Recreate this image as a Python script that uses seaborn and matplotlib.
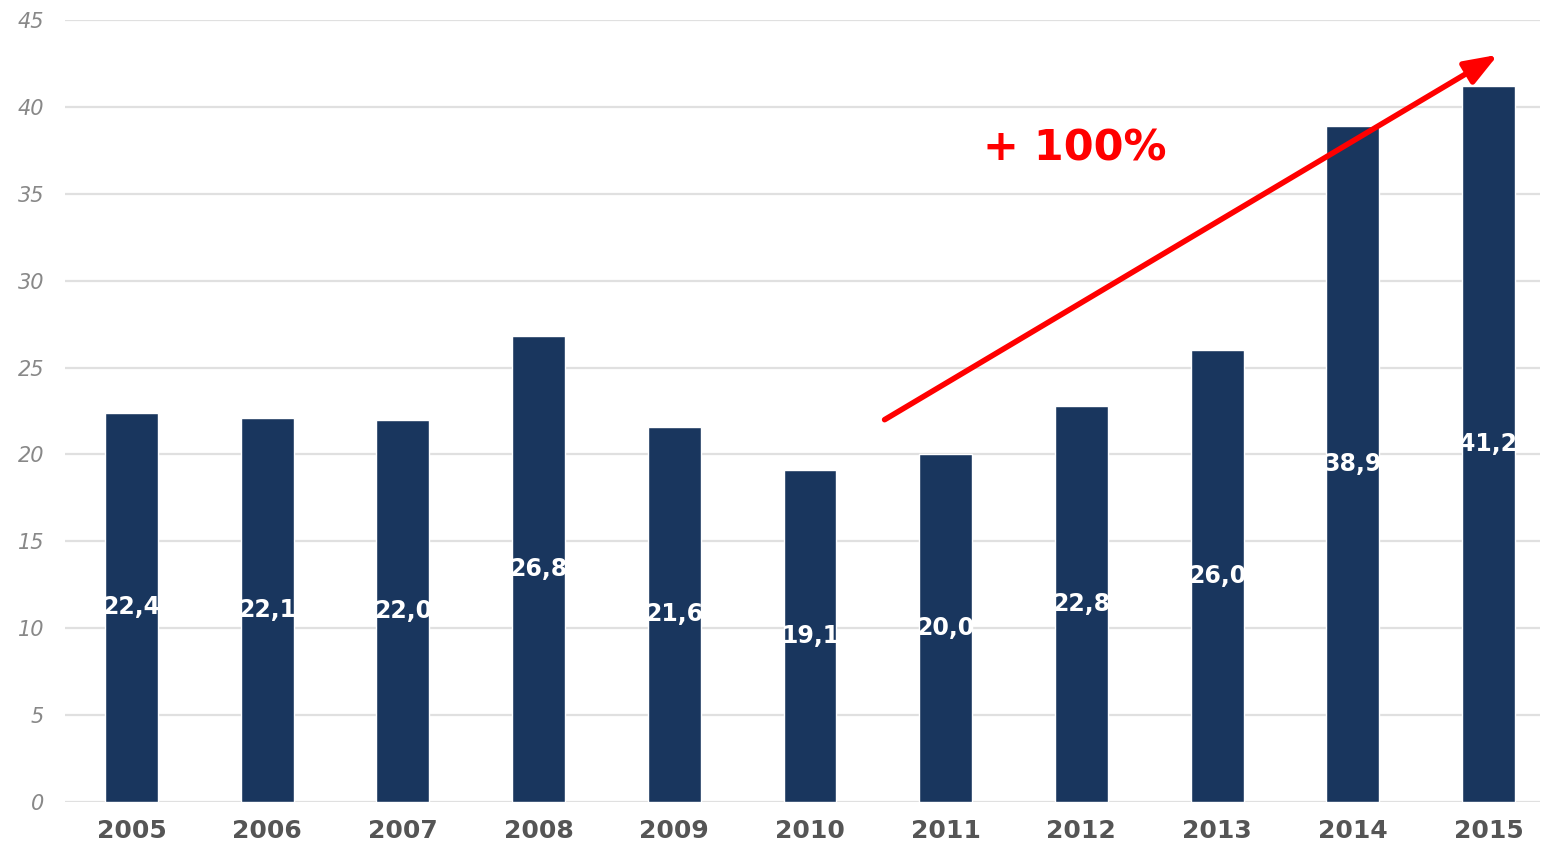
import pandas as pd
import seaborn as sns
import matplotlib.pyplot as plt

# Dados
anos = ['2005', '2006', '2007', '2008', '2009', '2010', '2011', '2012', '2013', '2014', '2015']
valores = [22.4, 22.1, 22.0, 26.8, 21.6, 19.1, 20.0, 22.8, 26.0, 38.9, 41.2]
rotulos = ['22,4', '22,1', '22,0', '26,8', '21,6', '19,1', '20,0', '22,8', '26,0', '38,9', '41,2']
yticks = [0, 5, 10, 15, 20, 25, 30, 35, 40, 45]

df = pd.DataFrame({'ano': anos, 'valor': valores})

sns.set_style('white')
fig = plt.figure(figsize=(15.41, 8.59), dpi=100)
ax = fig.add_axes([65 / 1541, 57 / 859, 1475 / 1541, 782 / 859])

sns.barplot(data=df, x='ano', y='valor', color='#19365E', width=0.39, saturation=1, ax=ax)

# Eixos e grade
ax.set_ylim(0, 45)
ax.set_xlim(-0.49, 10.38)
ax.set_yticks(yticks)
ax.set_yticklabels([str(t) for t in yticks], fontsize=15, color='#888888', style='italic')
ax.tick_params(axis='y', length=0, pad=15)
ax.tick_params(axis='x', length=0, pad=12)
for lbl in ax.get_xticklabels():
    lbl.set_fontsize(18)
    lbl.set_color('#555555')
    lbl.set_fontweight('bold')
ax.set_xlabel('')
ax.set_ylabel('')
ax.yaxis.grid(True, color='#e0e0e0', linewidth=1.6)
ax.set_axisbelow(True)
for s in ax.spines.values():
    s.set_visible(False)

# Rótulos dentro das barras
for i, (v, r) in enumerate(zip(valores, rotulos)):
    ax.text(i, v / 2, r, ha='center', va='center', color='white',
            fontsize=17, fontweight='bold')

# Seta de tendência
ax.annotate('', xy=(10.07, 43.0), xytext=(5.55, 22.0),
            arrowprops=dict(arrowstyle='-|>,head_length=0.8,head_width=0.3', color='#ff0000', lw=4,
                            mutation_scale=25, shrinkA=0, shrinkB=0))
ax.text(6.95, 37.6, '+ 100%', color='#ff0000', fontsize=31, fontweight='bold',
        ha='center', va='center')

plt.savefig('out.png', dpi=100)
